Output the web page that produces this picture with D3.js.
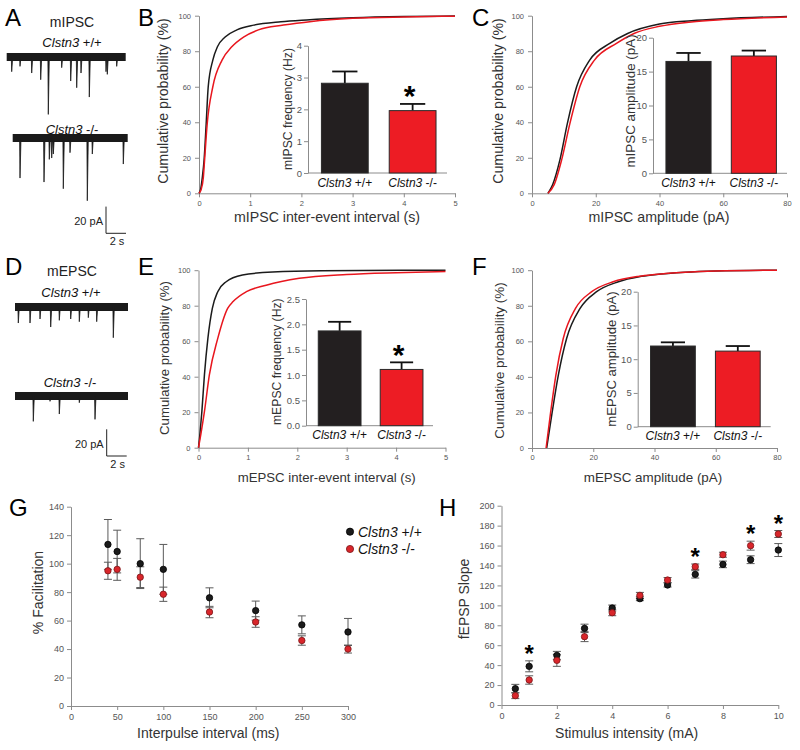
<!DOCTYPE html>
<html><head><meta charset="utf-8">
<script src="https://cdn.jsdelivr.net/npm/d3@7"></script>
<style>body{margin:0;background:#fff} svg{display:block} text{font-family:"Liberation Sans",Arial,sans-serif}</style>
</head><body><svg id="c" width="800" height="750"></svg>
<script>
// ---------------- DATA ----------------
const genotypes = ["Clstn3 +/+", "Clstn3 -/-"];
// Panel A / D example traces: event times (s) and amplitudes (pA)
const aWtDur = 11.9, aKoDur = 11.5, dWtDur = 11.3, dKoDur = 11.3;
const aWtTimes = [0.5, 1.33, 2.5, 3.4, 4.16, 5.5, 6.4, 7.0, 7.43, 8.26, 9.93, 10.06, 11.0];
const aWtAmps  = [11, 7, 12, 17, 43, 8, 18, 23, 12, 30, 11, 13, 7];
const aKoTimes = [0.73, 3.13, 3.66, 3.9, 4.06, 5.06, 5.73, 7.46, 7.96, 11.06];
const aKoAmps  = [30, 33, 16, 15, 12, 38, 11, 47, 12, 19.5];
const dWtTimes = [0.33, 1.5, 2.5, 3.57, 4.43, 5.57, 6.43, 7.33, 8.17, 9.83];
const dWtAmps  = [12, 12, 9, 15, 10, 9, 11, 8, 11, 23];
const dKoTimes = [1.83, 3.5, 4.43, 6.43, 8.0];
const dKoAmps  = [19, 4, 13.5, 5, 17.5];
const noisePA = 6;
const scaleBarPA = 20, scaleBarS = 2;

// Panel B cumulative (inter-event interval, s ; %)
const bWtX = [0, 0.03, 0.065, 0.1, 0.14, 0.18, 0.27, 0.36, 0.51, 0.74, 1.07, 1.6, 2.1, 3, 4, 5];
const bWtY = [0, 2, 9, 19, 39, 60, 75, 82.5, 88, 92, 94.7, 96.6, 97.6, 98.8, 99.5, 99.8];
const bKoX = [0, 0.04, 0.085, 0.11, 0.16, 0.27, 0.45, 0.64, 0.87, 1.16, 1.65, 2.2, 3, 4, 5];
const bKoY = [0, 2, 9, 19, 39, 60, 75, 82.5, 88, 92, 94.7, 96.8, 98.5, 99.3, 99.7];
const bFreq = [2.82, 1.96], bFreqErr = [0.37, 0.21];
// Panel C cumulative (amplitude, pA ; %)
const cWtX = [5, 6.5, 8.75, 11.1, 14, 18.1, 24.4, 30, 40, 50, 60, 80];
const cWtY = [0, 5, 18.8, 39.4, 60, 75, 84.4, 90, 95.3, 97.2, 98.3, 99.6];
const cKoX = [5, 7, 9.3, 11.9, 15, 19.6, 26.5, 32, 40, 50, 60, 80];
const cKoY = [0, 5, 18.8, 39.4, 60, 75, 84.4, 90, 94, 96.5, 97.8, 99.3];
const cAmp = [16.5, 17.3], cAmpErr = [1.25, 0.8];
// Panel E
const eWtX = [0, 0.03, 0.068, 0.12, 0.19, 0.28, 0.39, 0.56, 0.89, 1.5, 2.5, 5];
const eWtY = [0, 8, 20.3, 41, 61.6, 78.5, 87.9, 93.5, 97.3, 99, 99.7, 100];
const eKoX = [0, 0.05, 0.12, 0.22, 0.39, 0.59, 0.7, 0.97, 1.37, 2.04, 3, 4, 5];
const eKoY = [0, 8, 20.3, 41, 61.6, 78.5, 82.3, 87.9, 91.5, 95.4, 97.6, 98.6, 99.2];
const eFreq = [1.87, 1.11], eFreqErr = [0.18, 0.14];
// Panel F
const fWtX = [4.8, 6.6, 8.6, 11.3, 15.7, 21.1, 28.2, 35, 40, 50, 60, 80];
const fWtY = [0, 20.3, 41, 61.6, 78.5, 87.9, 93.5, 96.3, 97.4, 98.8, 99.5, 100];
const fKoX = [4.6, 6.1, 7.8, 10.2, 14.2, 19.5, 26.5, 35, 40, 50, 60, 80];
const fKoY = [0, 20.3, 41, 61.6, 78.5, 87.9, 93.5, 96.6, 97.6, 98.9, 99.6, 100];
const fAmp = [11.95, 11.2], fAmpErr = [0.55, 0.75];
// Panel G paired-pulse facilitation
const gX = [40, 50, 75, 100, 150, 200, 250, 300];
const gWt = [113.5, 108.5, 100, 96, 76, 67, 57, 52];
const gWtErr = [17.5, 15, 17.5, 17.5, 7, 6.7, 6.3, 9.5];
const gKo = [95, 96, 90.5, 78.5, 66, 59, 46, 40];
const gKoErr = [6, 7.7, 7.3, 5, 4, 3.7, 3.3, 2.8];
// Panel H input-output
const hX = [0.5, 1, 2, 3, 4, 5, 6, 7, 8, 9, 10];
const hWt = [16.4, 38.8, 49.8, 76.9, 97.3, 106.7, 120.4, 131.1, 141.1, 145.8, 155.5];
const hWtErr = [4.3, 5.5, 4, 4.2, 3, 2, 2, 3.7, 3.3, 3.9, 6.5];
const hKo = [9.4, 25.1, 44.8, 68.6, 92.6, 110, 125.4, 138.8, 150.8, 159.9, 171.6];
const hKoErr = [3, 4.2, 6, 5, 3, 3, 2.5, 2.7, 2.5, 4.5, 3.5];
const hSig = [1, 7, 9, 10];

// ---------------- DRAW ----------------
const svg = d3.select("#c");
const BLACK = "#1b1b1b", RED = "#e8161e";

function txt(x, y, s, fs, o = {}) {
  const t = svg.append("text").attr("x", x).attr("y", y).attr("font-size", fs)
    .attr("fill", o.fill || "#222").attr("text-anchor", o.anchor || "start");
  if (o.weight) t.attr("font-weight", o.weight);
  t.text(s);
  return t;
}
function vtxt(x, cy, s, fs, fill) {
  svg.append("text").attr("transform", `translate(${x},${cy}) rotate(-90)`)
    .attr("text-anchor", "middle").attr("font-size", fs).attr("fill", fill || "#333").text(s);
}
function geno(x, y, name, fs, anchor) {
  const t = svg.append("text").attr("x", x).attr("y", y).attr("font-size", fs)
    .attr("text-anchor", anchor || "middle").attr("fill", "#111");
  const p = name.split(" ");
  t.append("tspan").attr("font-style", "italic").text(p[0]);
  t.append("tspan").text(" " + p[1]);
}
function styleAxis(g, fs) {
  g.select(".domain").attr("stroke", "#8c8c8c");
  g.selectAll(".tick line").attr("stroke", "#8c8c8c");
  g.selectAll(".tick text").attr("fill", "#555").attr("font-size", fs)
    .attr("font-family", '"Liberation Sans", Arial, sans-serif');
}

// traces
function trace(x0, yc, dur, times, amps) {
  const xs = d3.scaleLinear().domain([0, dur]).range([x0, x0 + dur * 10]);
  const ys = d3.scaleLinear().domain([0, 20]).range([yc, yc + 26.7]);
  svg.append("rect").attr("x", xs(0)).attr("y", ys(-noisePA / 2))
    .attr("width", xs(dur) - xs(0)).attr("height", ys(noisePA / 2) - ys(-noisePA / 2))
    .attr("fill", "#1a1a1a");
  const sp = d3.line().x(d => xs(d[0])).y(d => ys(d[1]));
  times.forEach((t, i) => {
    svg.append("path").attr("d", sp([[t - 0.04, 0], [t, amps[i]], [t + 0.1, 0]]))
      .attr("fill", "#1a1a1a").attr("stroke", "#1a1a1a").attr("stroke-width", 0.8);
  });
}
function scaleBar(xc, yc, lblY1, lblY2) {
  const xs = d3.scaleLinear().domain([0, 1]).range([xc, xc + 10]);
  const ys = d3.scaleLinear().domain([0, 20]).range([yc, yc - 26.7]);
  svg.append("path").attr("d", `M${xs(0)},${ys(scaleBarPA)}V${ys(0)}H${xs(scaleBarS)}`)
    .attr("fill", "none").attr("stroke", "#222").attr("stroke-width", 1);
  txt(xc - 3, lblY1, scaleBarPA + " pA", 11, { anchor: "end", fill: "#222" });
  txt(xc + 11, lblY2, scaleBarS + " s", 11, { anchor: "middle", fill: "#222" });
}

// panel letters
[["A", 5, 26], ["B", 138, 26], ["C", 472, 26], ["D", 5, 275], ["E", 138, 275], ["F", 472, 275], ["G", 9, 516], ["H", 439, 516]]
  .forEach(d => txt(d[1], d[2], d[0], 24, { fill: "#000" }));

txt(72, 26.7, "mIPSC", 14, { anchor: "middle" });
geno(72, 46.7, genotypes[0], 13);
geno(72, 134, genotypes[1], 13);
trace(6.7, 57, aWtDur, aWtTimes, aWtAmps);
trace(12.7, 138, aKoDur, aKoTimes, aKoAmps);
scaleBar(106, 233.3, 225, 245);

txt(72, 276, "mEPSC", 14, { anchor: "middle" });
geno(71, 296.7, genotypes[0], 13);
geno(70, 386.7, genotypes[1], 13);
trace(15, 307, dWtDur, dWtTimes, dWtAmps);
trace(15, 396, dKoDur, dKoTimes, dKoAmps);
scaleBar(106.7, 456, 448, 468);

// cumulative panels
function cdf(o) {
  const x = d3.scaleLinear().domain(o.xd).range(o.xr);
  const y = d3.scaleLinear().domain([0, 100]).range(o.yr);
  const ax = svg.append("g").attr("transform", `translate(0,${o.yr[0]})`)
    .call(d3.axisBottom(x).tickValues(o.xt).tickFormat(d3.format("d")).tickSize(4).tickPadding(3).tickSizeOuter(0));
  styleAxis(ax, 7.5);
  const ay = svg.append("g").attr("transform", `translate(${o.xr[0]},0)`)
    .call(d3.axisLeft(y).tickValues([0, 20, 40, 60, 80, 100]).tickFormat(d3.format("d")).tickSize(4).tickPadding(4).tickSizeOuter(0));
  styleAxis(ay, 7.5);
  const ln = d3.line().x(d => x(d[0])).y(d => y(d[1])).curve(d3.curveMonotoneX);
  svg.append("path").datum(d3.zip(o.wx, o.wy)).attr("d", ln).attr("fill", "none").attr("stroke", BLACK).attr("stroke-width", 1.5);
  svg.append("path").datum(d3.zip(o.kx, o.ky)).attr("d", ln).attr("fill", "none").attr("stroke", RED).attr("stroke-width", 1.5);
  txt(o.xtp[0], o.xtp[1], o.xtitle, o.fs, { anchor: "middle", fill: "#333" });
  vtxt(o.ytp[0], o.ytp[1], "Cumulative probability (%)", o.fs);
}
cdf({ xd: [0, 5], xr: [199, 455], yr: [193.3, 15.7], xt: [0, 1, 2, 3, 4, 5], wx: bWtX, wy: bWtY, kx: bKoX, ky: bKoY,
  xtitle: "mIPSC inter-event interval (s)", xtp: [327, 221.5], ytp: [167.7, 101], fs: 14.2 });
cdf({ xd: [0, 80], xr: [532, 787], yr: [193.3, 15.7], xt: [0, 20, 40, 60, 80], wx: cWtX, wy: cWtY, kx: cKoX, ky: cKoY,
  xtitle: "mIPSC amplitude (pA)", xtp: [659, 221.5], ytp: [503, 101], fs: 14.2 });
cdf({ xd: [0, 5], xr: [198.5, 445.5], yr: [447.7, 270.2], xt: [0, 1, 2, 3, 4, 5], wx: eWtX, wy: eWtY, kx: eKoX, ky: eKoY,
  xtitle: "mEPSC inter-event interval (s)", xtp: [326.7, 481.5], ytp: [168.9, 358], fs: 13.2 });
cdf({ xd: [0, 80], xr: [532, 777], yr: [448, 270.2], xt: [0, 20, 40, 60, 80], wx: fWtX, wy: fWtY, kx: fKoX, ky: fKoY,
  xtitle: "mEPSC amplitude (pA)", xtp: [653, 481.5], ytp: [503.9, 360.5], fs: 13.4 });

// inset bar charts
function inset(o) {
  const x = d3.scaleBand().domain(genotypes).range(o.xr).paddingInner(0.31).paddingOuter(0.18).align(0.55);
  const y = d3.scaleLinear().domain(o.yd).range(o.yr);
  const ay = svg.append("g").attr("transform", `translate(${o.xr[0]},0)`)
    .call(d3.axisLeft(y).tickValues(o.yt).tickSize(4).tickPadding(2).tickSizeOuter(0).tickFormat(o.fmt));
  styleAxis(ay, 9.5);
  svg.append("line").attr("x1", o.xr[0]).attr("x2", o.xr[1]).attr("y1", o.yr[0]).attr("y2", o.yr[0])
    .attr("stroke", "#8c8c8c");
  genotypes.forEach((gname, i) => {
    const bx = x(gname), bw = x.bandwidth(), cx = bx + bw / 2;
    const top = y(o.vals[i] + o.errs[i]);
    svg.append("line").attr("x1", cx).attr("x2", cx).attr("y1", y(o.vals[i])).attr("y2", top)
      .attr("stroke", "#111").attr("stroke-width", 1.8);
    svg.append("line").attr("x1", cx - bw * 0.27).attr("x2", cx + bw * 0.27).attr("y1", top).attr("y2", top)
      .attr("stroke", "#111").attr("stroke-width", 1.8);
    svg.append("rect").attr("x", bx).attr("y", y(o.vals[i])).attr("width", bw).attr("height", y(0) - y(o.vals[i]))
      .attr("fill", i === 0 ? "#231f20" : "#ed1c24").attr("stroke", "#2a2a2a").attr("stroke-width", 1);
    geno(cx, o.yr[0] + 13.5, gname, 12);
    if (o.sig && i === 1) {
      txt(cx - 3, top - 14 + 0.55 * 30, "*", 30, { anchor: "middle", fill: "#000", weight: "bold" });
    }
  });
  vtxt(o.ttp[0], o.ttp[1], o.title, o.tfs, "#333");
}
inset({ xr: [308, 447], yr: [173, 45.7], yd: [0, 4], yt: [0, 1, 2, 3, 4], fmt: d3.format("d"), vals: bFreq, errs: bFreqErr,
  sig: true, title: "mIPSC frequency (Hz)", ttp: [292.4, 109], tfs: 12.2 });
inset({ xr: [653, 787], yr: [173.3, 37.7], yd: [0, 20], yt: [0, 5, 10, 15, 20], fmt: d3.format("d"), vals: cAmp, errs: cAmpErr,
  sig: false, title: "mIPSC amplitude (pA)", ttp: [634.5, 101], tfs: 13.4 });
inset({ xr: [306, 433], yr: [425.7, 299], yd: [0, 2.5], yt: [0, 0.5, 1, 1.5, 2, 2.5], fmt: d3.format(".1f"), vals: eFreq, errs: eFreqErr,
  sig: true, title: "mEPSC frequency (Hz)", ttp: [280.7, 361.7], tfs: 12.2 });
inset({ xr: [637.7, 770.7], yr: [426.7, 291.7], yd: [0, 20], yt: [0, 5, 10, 15, 20], fmt: d3.format("d"), vals: fAmp, errs: fAmpErr,
  sig: false, title: "mEPSC amplitude (pA)", ttp: [615.5, 359], tfs: 13.1 });

// scatter panels G and H
function scatter(o) {
  const x = d3.scaleLinear().domain(o.xd).range(o.xr);
  const y = d3.scaleLinear().domain(o.yd).range(o.yr);
  const ax = svg.append("g").attr("transform", `translate(0,${o.yr[0]})`)
    .call(d3.axisBottom(x).tickValues(o.xt).tickFormat(d3.format("d")).tickSize(4).tickPadding(4).tickSizeOuter(0));
  styleAxis(ax, 9);
  const ay = svg.append("g").attr("transform", `translate(${o.xr[0]},0)`)
    .call(d3.axisLeft(y).tickValues(o.yt).tickFormat(d3.format("d")).tickSize(4).tickPadding(3).tickSizeOuter(0));
  styleAxis(ay, 9);
  const series = [[o.wt, o.wtErr, "#1b1b1b", "#000"], [o.ko, o.koErr, "#d9262b", "#7a1518"]];
  series.forEach(([v, e]) => {
    o.xs.forEach((xv, i) => {
      const cx = x(xv), y1 = y(v[i] + e[i]), y2 = y(v[i] - e[i]);
      svg.append("path").attr("d", `M${cx},${y1}V${y2}M${cx - 4},${y1}H${cx + 4}M${cx - 4},${y2}H${cx + 4}`)
        .attr("stroke", "#5a5a5a").attr("stroke-width", 1).attr("fill", "none");
    });
  });
  series.forEach(([v, e, fill, stroke]) => {
    o.xs.forEach((xv, i) => {
      svg.append("circle").attr("cx", x(xv)).attr("cy", y(v[i])).attr("r", 3.2)
        .attr("fill", fill).attr("stroke", stroke).attr("stroke-width", 0.8);
    });
  });
  if (o.sig) {
    o.sig.forEach(sx => {
      const i = o.xs.indexOf(sx);
      const top = Math.min(y(o.wt[i] + o.wtErr[i]), y(o.ko[i] + o.koErr[i]));
      txt(x(sx), top - 12 + 0.55 * 24, "*", 24, { anchor: "middle", fill: "#000", weight: "bold" });
    });
  }
  txt(o.xtp[0], o.xtp[1], o.xtitle, 14, { anchor: "middle", fill: "#333" });
  vtxt(o.ytp[0], o.ytp[1], o.ytitle, 14);
}
scatter({ xd: [0, 300], xr: [71, 348], yd: [0, 140], yr: [706, 506.7], xt: [0, 50, 100, 150, 200, 250, 300],
  yt: [0, 20, 40, 60, 80, 100, 120, 140], xs: gX, wt: gWt, wtErr: gWtErr, ko: gKo, koErr: gKoErr,
  xtitle: "Interpulse interval (ms)", xtp: [208.3, 738], ytitle: "% Facilitation", ytp: [43, 592.5] });
scatter({ xd: [0, 10], xr: [501.5, 778.3], yd: [0, 200], yr: [705, 505.7], xt: [0, 2, 4, 6, 8, 10],
  yt: [0, 20, 40, 60, 80, 100, 120, 140, 160, 180, 200], xs: hX, wt: hWt, wtErr: hWtErr, ko: hKo, koErr: hKoErr, sig: hSig,
  xtitle: "Stimulus intensity (mA)", xtp: [626.7, 738], ytitle: "fEPSP Slope", ytp: [468.8, 599] });

// legend G
[["#1b1b1b", "#000", 531.7, 536.5], ["#d9262b", "#7a1518", 549, 553.8]].forEach((d, i) => {
  svg.append("circle").attr("cx", 350).attr("cy", d[2]).attr("r", 3.6).attr("fill", d[0]).attr("stroke", d[1]).attr("stroke-width", 0.8);
  geno(358, d[3], genotypes[i], 14, "start");
});
</script></body></html>
